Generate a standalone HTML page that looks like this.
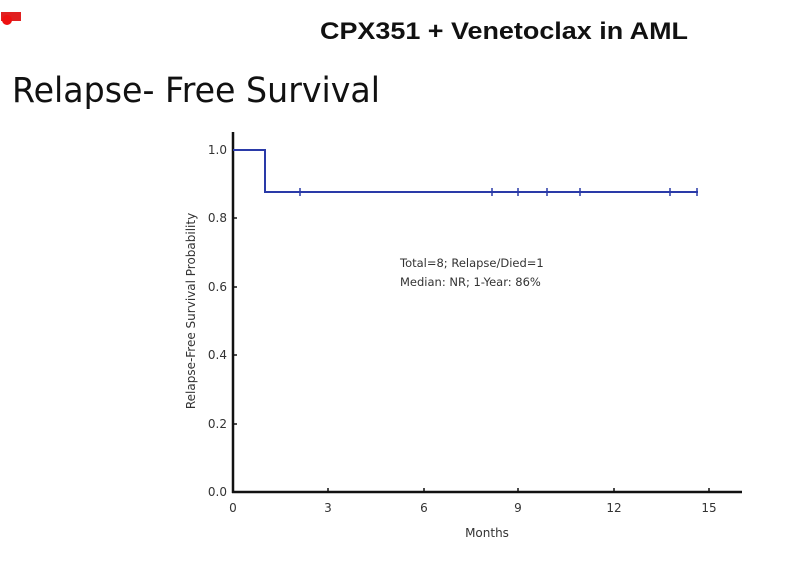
<!DOCTYPE html>
<html><head><meta charset="utf-8"><style>
body{margin:0;width:810px;height:562px;background:#fff;overflow:hidden;font-family:"Liberation Sans",sans-serif;}
</style></head><body>
<svg width="810" height="562" xmlns="http://www.w3.org/2000/svg" style="position:absolute;left:0;top:0">
<rect x="1" y="12" width="20" height="9" fill="#e02020"/>
<circle cx="7" cy="20" r="5" fill="#ee1010"/>
<text x="320" y="39" font-size="24" font-weight="bold" fill="#111" font-family="Liberation Sans, sans-serif" textLength="368" lengthAdjust="spacingAndGlyphs">CPX351 + Venetoclax in AML</text>
<text x="12" y="102" font-size="35" fill="#111" font-family="DejaVu Sans, sans-serif" textLength="368" lengthAdjust="spacingAndGlyphs">Relapse- Free Survival</text>
<g stroke="#111" stroke-width="2.5" fill="none">
<line x1="233" y1="132" x2="233" y2="493"/>
<line x1="232" y1="492" x2="742" y2="492"/>
</g>
<g stroke="#111" stroke-width="1.5">
<line x1="233" y1="150" x2="237" y2="150"/><line x1="233" y1="218" x2="237" y2="218"/>
<line x1="233" y1="287" x2="237" y2="287"/><line x1="233" y1="355" x2="237" y2="355"/>
<line x1="233" y1="424" x2="237" y2="424"/>
<line x1="328" y1="492" x2="328" y2="488"/><line x1="424" y1="492" x2="424" y2="488"/>
<line x1="518" y1="492" x2="518" y2="488"/><line x1="614" y1="492" x2="614" y2="488"/>
<line x1="709" y1="492" x2="709" y2="488"/>
</g>
<g font-size="12" fill="#333" text-anchor="end" font-family="DejaVu Sans, sans-serif">
<text x="227" y="154">1.0</text><text x="227" y="222">0.8</text><text x="227" y="291">0.6</text>
<text x="227" y="359">0.4</text><text x="227" y="428">0.2</text><text x="227" y="496">0.0</text>
</g>
<g font-size="12" fill="#333" text-anchor="middle" font-family="DejaVu Sans, sans-serif">
<text x="233" y="512">0</text><text x="328" y="512">3</text><text x="424" y="512">6</text>
<text x="518" y="512">9</text><text x="614" y="512">12</text><text x="709" y="512">15</text>
<text x="487" y="537">Months</text>
<text transform="translate(195,311) rotate(-90)">Relapse-Free Survival Probability</text>
</g>
<path d="M233 150 H265 V192 H698" stroke="#2a3aa8" stroke-width="2" fill="none"/>
<g stroke="#2a3aa8" stroke-width="1.5">
<line x1="300" y1="188" x2="300" y2="196"/><line x1="492" y1="188" x2="492" y2="196"/>
<line x1="518" y1="188" x2="518" y2="196"/><line x1="547" y1="188" x2="547" y2="196"/>
<line x1="580" y1="188" x2="580" y2="196"/><line x1="670" y1="188" x2="670" y2="196"/>
<line x1="697" y1="188" x2="697" y2="196"/>
</g>
<g font-size="11.5" fill="#333" font-family="DejaVu Sans, sans-serif">
<text x="400" y="267">Total=8; Relapse/Died=1</text>
<text x="400" y="286">Median: NR; 1-Year: 86%</text>
</g>
</svg>
</body></html>
